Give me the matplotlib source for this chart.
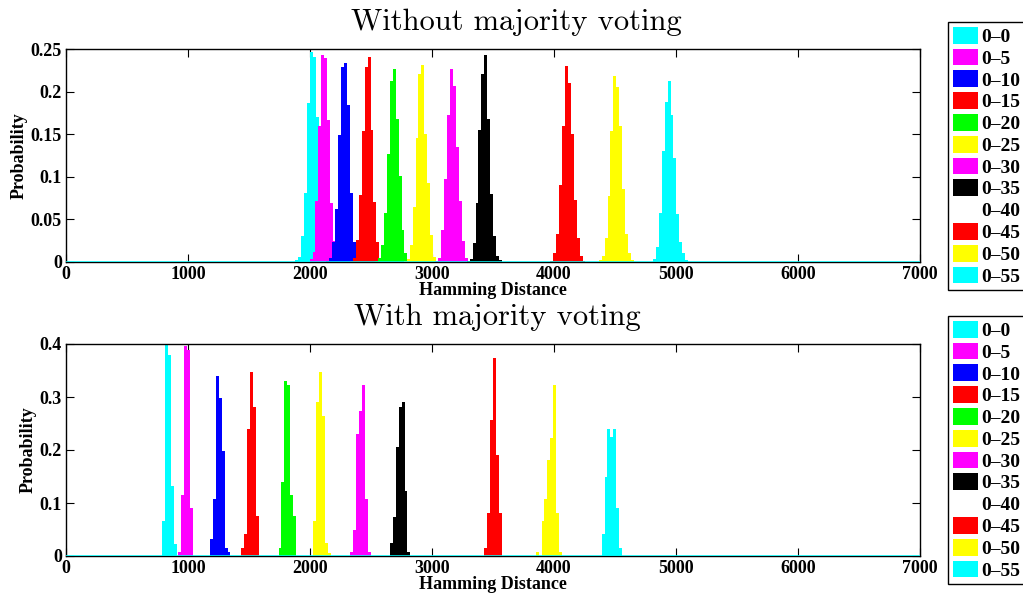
import numpy as np
import matplotlib
matplotlib.use("Agg")
import matplotlib.pyplot as plt
from matplotlib.ticker import FuncFormatter

# ---------------- data ----------------
legend_labels = ["0\u20130", "0\u20135", "0\u201310", "0\u201315", "0\u201320", "0\u201325",
                 "0\u201330", "0\u201335", "0\u201340", "0\u201345", "0\u201350", "0\u201355"]

bin_width = 24  # Hamming-distance width of one histogram bin

# Without majority voting: left edge of first bin and bin probabilities per series
top_starts = [1880, 1973, 2134, 2328, 2534, 2769, 3003, 3285, 3650, 3970, 4367, 4811]
top_probs = [
    [0.002, 0.006, 0.031, 0.081, 0.187, 0.246, 0.241, 0.170, 0.080, 0.030, 0.008, 0.002],
    [0.000, 0.003, 0.012, 0.072, 0.160, 0.243, 0.240, 0.167, 0.069, 0.025, 0.007, 0.002],
    [0.001, 0.005, 0.024, 0.062, 0.149, 0.229, 0.234, 0.184, 0.081, 0.024, 0.005, 0.001],
    [0.001, 0.005, 0.026, 0.079, 0.154, 0.229, 0.241, 0.155, 0.070, 0.024, 0.005, 0.001],
    [0.001, 0.005, 0.020, 0.058, 0.127, 0.213, 0.227, 0.168, 0.101, 0.038, 0.011, 0.003],
    [0.001, 0.003, 0.020, 0.065, 0.146, 0.221, 0.231, 0.150, 0.093, 0.032, 0.006, 0.001],
    [0.000, 0.001, 0.005, 0.037, 0.098, 0.172, 0.226, 0.207, 0.135, 0.072, 0.025, 0.005],
    [0.001, 0.004, 0.022, 0.069, 0.155, 0.221, 0.243, 0.168, 0.080, 0.030, 0.007, 0.002],
    [0.001, 0.004, 0.022, 0.070, 0.150, 0.220, 0.230, 0.170, 0.085, 0.032, 0.008, 0.002],
    [0.001, 0.010, 0.033, 0.090, 0.160, 0.230, 0.210, 0.150, 0.073, 0.028, 0.007, 0.001],
    [0.002, 0.007, 0.028, 0.078, 0.154, 0.218, 0.205, 0.160, 0.086, 0.033, 0.010, 0.002],
    [0.003, 0.018, 0.058, 0.130, 0.188, 0.213, 0.173, 0.122, 0.056, 0.023, 0.010, 0.002],
]

# With majority voting
bottom_starts = [787, 922, 1180, 1437, 1742, 2025, 2328, 2655, 3060, 3430, 3850, 4390]
bottom_probs = [
    [0.066, 0.400, 0.379, 0.133, 0.022],
    [0.008, 0.115, 0.396, 0.388, 0.090],
    [0.032, 0.107, 0.340, 0.298, 0.199, 0.016, 0.008],
    [0.016, 0.042, 0.239, 0.347, 0.282, 0.075],
    [0.016, 0.140, 0.331, 0.323, 0.115, 0.075],
    [0.066, 0.290, 0.347, 0.264, 0.025, 0.005],
    [0.007, 0.049, 0.231, 0.274, 0.323, 0.107, 0.008],
    [0.025, 0.074, 0.206, 0.282, 0.290, 0.123, 0.008],
    [0.020, 0.100, 0.300, 0.300, 0.200, 0.070, 0.010],
    [0.016, 0.082, 0.257, 0.373, 0.190, 0.082],
    [0.007, 0.000, 0.066, 0.107, 0.182, 0.223, 0.323, 0.082, 0.008],
    [0.041, 0.150, 0.239, 0.225, 0.239, 0.090, 0.016],
]

x_ticks = [0, 1000, 2000, 3000, 4000, 5000, 6000, 7000]
top_yticks = [0, 0.05, 0.1, 0.15, 0.2, 0.25]
bottom_yticks = [0, 0.1, 0.2, 0.3, 0.4]

# ---------------- style ----------------
colors = ["#00ffff", "#ff00ff", "#0000ff", "#ff0000", "#00ff00", "#ffff00",
          "#ff00ff", "#000000", "#ffffff", "#ff0000", "#ffff00", "#00ffff"]

serif_bold = {"family": "Liberation Serif", "weight": "bold"}

fig = plt.figure(figsize=(10.23, 6), dpi=100)
fig.patch.set_facecolor("white")

ax1 = fig.add_axes([66 / 1023, 1 - 262 / 600, 854 / 1023, 213 / 600])
ax2 = fig.add_axes([66 / 1023, 1 - 556 / 600, 854 / 1023, 212 / 600])


def draw(ax, starts, probs, yticks, title, title_x, legend_top):
    handles = []
    for i, (s, p) in enumerate(zip(starts, probs)):
        p = np.asarray(p)
        edges = s + bin_width * np.arange(len(p))
        b = ax.bar(edges, p, width=bin_width, align="edge", color=colors[i],
                   linewidth=0, zorder=2 + i * 0.01)
        handles.append(b)
    ax.axhline(0, color=colors[-1], lw=1.8, zorder=3)
    ax.set_xlim(x_ticks[0], x_ticks[-1])
    ax.set_ylim(yticks[0], yticks[-1])
    ax.set_xticks(x_ticks)
    ax.set_yticks(yticks)
    ax.yaxis.set_major_formatter(FuncFormatter(lambda v, _: "%g" % v))
    ax.tick_params(direction="in", length=6, width=0.8, top=True, right=True,
                   labelsize=13, pad=3, colors="black")
    for lab in ax.get_xticklabels() + ax.get_yticklabels():
        lab.set_fontfamily(serif_bold["family"])
        lab.set_fontweight("bold")
    for sp in ax.spines.values():
        sp.set_linewidth(1.0)
        sp.set_color("black")
    ax.set_xlabel("Hamming Distance", fontsize=13, labelpad=-1, **serif_bold)
    ax.set_ylabel("Probability", fontsize=13, labelpad=2, **serif_bold)
    ax.set_title(title, fontsize=22, family="cmr10", pad=14, x=title_x)
    leg = fig.legend(handles, legend_labels, loc="upper left",
                     bbox_to_anchor=(948 / 1023, legend_top),
                     prop={"family": "Liberation Serif", "weight": "bold", "size": 14},
                     frameon=True, fancybox=False, framealpha=1, edgecolor="black",
                     handlelength=1.3, handleheight=0.95, handletextpad=0.15,
                     labelspacing=0.14, borderpad=0.25, borderaxespad=0)
    leg.get_frame().set_linewidth(1.0)


draw(ax1, top_starts, top_probs, top_yticks, "Without majority voting",
     (516 - 66) / 854, 1 - 22 / 600)
draw(ax2, bottom_starts, bottom_probs, bottom_yticks, "With majority voting",
     (497 - 66) / 854, 1 - 316 / 600)

fig.savefig("out.png", dpi=100, facecolor="white")
